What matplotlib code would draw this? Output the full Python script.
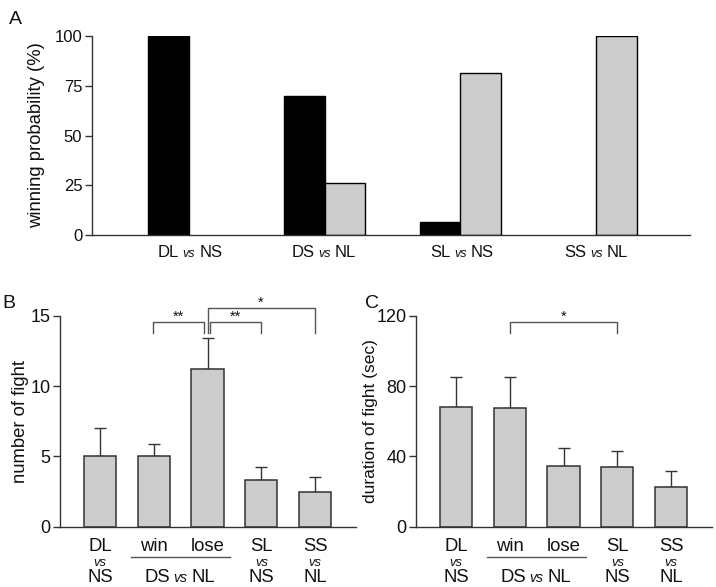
import matplotlib
matplotlib.use("Agg")
import matplotlib.pyplot as plt
import numpy as np

plt.rcParams['font.family'] = ['Liberation Sans', 'DejaVu Sans']

# ---- Panel A data ----
pairs_A = [("DL", "NS"), ("DS", "NL"), ("SL", "NS"), ("SS", "NL")]
win_first = [100.0, 69.6, 6.3, 0.0]      # black bars
win_second = [0.0, 26.1, 81.3, 100.0]    # grey bars
yticks_A = [0, 25, 50, 75, 100]

# ---- Panel B / C data ----
groups_BC = ["DL vs NS", "win", "lose", "SL vs NS", "SS vs NL"]
fights_mean = [5.0, 5.0, 11.2, 3.3, 2.5]
fights_err = [2.0, 0.85, 2.2, 0.95, 1.05]
duration_mean = [67.9, 67.3, 34.7, 34.1, 22.4]
duration_err = [17.4, 17.6, 10.2, 9.1, 9.4]
yticks_B = [0, 5, 10, 15]
yticks_C = [0, 40, 80, 120]

W, H = 716, 587
fig = plt.figure(figsize=(W / 100, H / 100), dpi=100)

def ax_px(l, r, top, bot):
    return fig.add_axes([l / W, 1 - bot / H, (r - l) / W, (bot - top) / H])

EDGE = "#333333"
GREY = "#cccccc"
TXT = "#111111"

def style(ax, labelsize):
    for s in ["top", "right"]:
        ax.spines[s].set_visible(False)
    for s in ["left", "bottom"]:
        ax.spines[s].set_color(EDGE)
        ax.spines[s].set_linewidth(1.0)
    ax.tick_params(axis="y", direction="out", length=5, width=1, color=EDGE,
                   labelsize=labelsize, pad=2, labelcolor=TXT)
    ax.tick_params(axis="x", length=0, labelbottom=False)

def vs_label(ax, x, y, left, right, size=12, gap=8.5):
    t = ax.get_xaxis_transform()
    ax.text(x, y, "vs", transform=t, ha="center", va="baseline",
            fontsize=size * 0.75, style="italic", color=TXT)
    ax.annotate(left, xy=(x, y), xycoords=t, xytext=(-gap, 0),
                textcoords="offset points", ha="right", va="baseline",
                fontsize=size, color=TXT, annotation_clip=False)
    ax.annotate(right, xy=(x, y), xycoords=t, xytext=(gap, 0),
                textcoords="offset points", ha="left", va="baseline",
                fontsize=size, color=TXT, annotation_clip=False)

# ================= Panel A =================
axA = ax_px(92, 690, 36, 235)
xA = np.arange(len(pairs_A))
bw = 0.3
v1 = np.array(win_first)
v2 = np.array(win_second)
m1 = v1 > 0
m2 = v2 > 0
axA.bar(xA[m1] - bw / 2, v1[m1], width=bw, color="black", edgecolor="black",
        linewidth=1)
axA.bar(xA[m2] + bw / 2, v2[m2], width=bw, color=GREY, edgecolor="black",
        linewidth=1)
axA.set_xlim(-0.713, 3.69)
axA.set_ylim(0, 100)
axA.set_yticks(yticks_A)
style(axA, 12)
axA.set_ylabel("winning probability (%)", fontsize=13.3, color=TXT)
axA.yaxis.set_label_coords(-0.078, 0.5)
for i, (a, b) in enumerate(pairs_A):
    vs_label(axA, xA[i], -0.11, a, b, size=12, gap=7.5)
fig.text(15 / W, 1 - 20 / H, "A", fontsize=14, ha="center", va="center",
         color=TXT)

# ================= Panel B / C helper =================
def bar_panel(ax, means, errs, ymax, yticks):
    x = np.arange(len(means))
    ax.bar(x, means, width=0.6, color=GREY, edgecolor=EDGE, linewidth=1.1,
           zorder=2)
    ax.errorbar(x, means, yerr=[np.zeros(len(errs)), errs], fmt="none",
                ecolor=EDGE, elinewidth=1, capsize=4, capthick=1, zorder=1)
    ax.set_xlim(-0.745, 4.76)
    ax.set_ylim(0, ymax)
    ax.set_yticks(yticks)
    style(ax, 13)
    t = ax.get_xaxis_transform()
    size = 13.3
    for i, (a, b) in [(0, ("DL", "NS")), (3, ("SL", "NS")), (4, ("SS", "NL"))]:
        ax.text(x[i], -0.114, a, transform=t, ha="center", va="baseline",
                fontsize=size, color=TXT)
        ax.text(x[i], -0.184, "vs", transform=t, ha="center", va="baseline",
                fontsize=size * 0.7, style="italic", color=TXT)
        ax.text(x[i], -0.262, b, transform=t, ha="center", va="baseline",
                fontsize=size, color=TXT)
    ax.text(x[1], -0.114, "win", transform=t, ha="center", va="baseline",
            fontsize=size, color=TXT)
    ax.text(x[2], -0.114, "lose", transform=t, ha="center", va="baseline",
            fontsize=size, color=TXT)
    mid = (x[1] + x[2]) / 2
    ax.plot([mid - 0.92, mid + 0.92], [-0.144, -0.144], transform=t,
            color="#555555", lw=1, clip_on=False)
    vs_label(ax, mid, -0.262, "DS", "NL", size=size, gap=7.5)
    return x

def bracket(ax, x1, x2, ytop, ylow_l, ylow_r, star, ystar):
    ax.plot([x1, x1, x2, x2], [ylow_l, ytop, ytop, ylow_r], color="#555555",
            lw=1, clip_on=False)
    ax.text((x1 + x2) / 2, ystar, star, ha="center", va="center",
            fontsize=10.5, color=TXT, clip_on=False)

# ================= Panel B =================
axB = ax_px(60, 356, 315.7, 526.7)
bar_panel(axB, fights_mean, fights_err, 15, yticks_B)
axB.set_ylabel("number of fight", fontsize=13.3, color=TXT)
axB.yaxis.set_label_coords(-0.105, 0.5)
bracket(axB, 0.99, 1.94, 14.53, 13.79, 13.79, "**", 14.9)
bracket(axB, 2.05, 3.0, 14.53, 13.79, 13.79, "**", 14.9)
bracket(axB, 2.0, 3.99, 15.52, 13.79, 13.79, "*", 15.95)
fig.text(9 / W, 1 - 304 / H, "B", fontsize=14, ha="center", va="center",
         color=TXT)

# ================= Panel C =================
axC = ax_px(416, 712, 315.7, 526.7)
bar_panel(axC, duration_mean, duration_err, 120, yticks_C)
axC.set_ylabel("duration of fight (sec)", fontsize=12.5, color=TXT)
axC.yaxis.set_label_coords(-0.13, 0.5)
bracket(axC, 1.0, 3.0, 116.2, 110.3, 110.3, "*", 119.6)
fig.text(372 / W, 1 - 304 / H, "C", fontsize=14, ha="center", va="center",
         color=TXT)

fig.savefig("out.png", dpi=100)
